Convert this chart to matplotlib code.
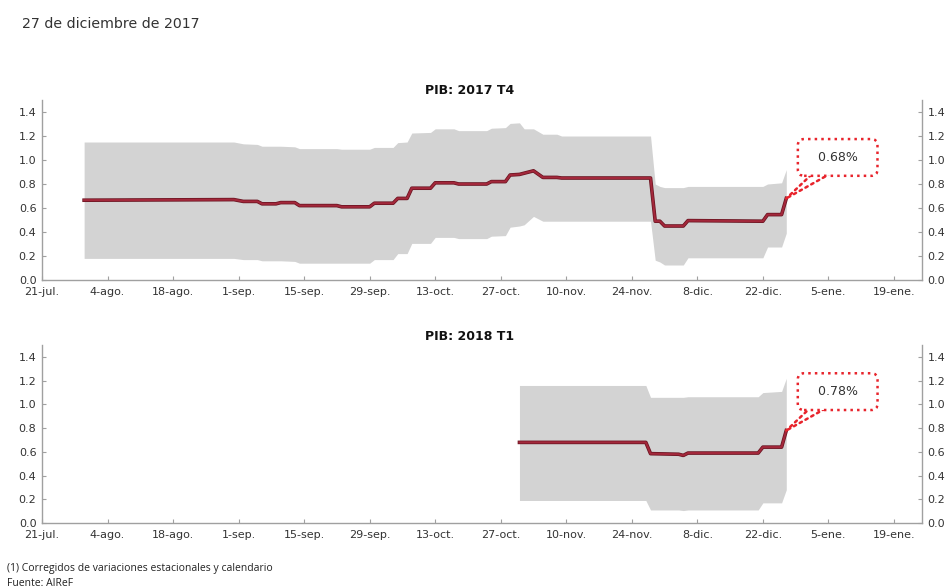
import matplotlib
matplotlib.use("Agg")
import matplotlib.pyplot as plt
import matplotlib.patheffects as pe
import pandas as pd

# PIB 2017 T4: estimacion central y banda de incertidumbre
fechas_t4 = ["2017-07-30", "2017-08-31", "2017-09-02", "2017-09-05", "2017-09-06", "2017-09-09",
             "2017-09-10", "2017-09-13", "2017-09-14", "2017-09-22", "2017-09-23", "2017-09-29",
             "2017-09-30", "2017-10-04", "2017-10-05", "2017-10-07", "2017-10-08", "2017-10-12",
             "2017-10-13", "2017-10-17", "2017-10-18", "2017-10-24", "2017-10-25", "2017-10-28",
             "2017-10-29", "2017-10-31", "2017-11-01", "2017-11-03", "2017-11-05", "2017-11-08",
             "2017-11-09", "2017-11-28", "2017-11-29", "2017-11-30", "2017-12-01", "2017-12-05",
             "2017-12-06", "2017-12-22", "2017-12-23", "2017-12-26", "2017-12-27"]
central_t4 = [0.665, 0.67, 0.655, 0.655, 0.635, 0.635,
              0.645, 0.645, 0.62, 0.62, 0.61, 0.61,
              0.64, 0.64, 0.68, 0.68, 0.765, 0.765,
              0.81, 0.81, 0.80, 0.80, 0.82, 0.82,
              0.875, 0.88, 0.89, 0.91, 0.855, 0.855,
              0.85, 0.85, 0.49, 0.49, 0.45, 0.45,
              0.495, 0.49, 0.545, 0.545, 0.68]
sup_t4 = [1.15, 1.15, 1.135, 1.13, 1.115, 1.115,
          1.115, 1.11, 1.095, 1.095, 1.09, 1.09,
          1.105, 1.105, 1.145, 1.15, 1.225, 1.23,
          1.26, 1.26, 1.245, 1.245, 1.265, 1.27,
          1.305, 1.31, 1.26, 1.26, 1.215, 1.215,
          1.20, 1.20, 0.80, 0.78, 0.77, 0.77,
          0.78, 0.78, 0.80, 0.81, 0.92]
inf_t4 = [0.18, 0.18, 0.17, 0.17, 0.16, 0.16,
          0.16, 0.155, 0.14, 0.14, 0.14, 0.14,
          0.17, 0.17, 0.22, 0.22, 0.305, 0.305,
          0.355, 0.355, 0.345, 0.345, 0.365, 0.37,
          0.44, 0.45, 0.46, 0.53, 0.49, 0.49,
          0.49, 0.49, 0.165, 0.15, 0.125, 0.125,
          0.185, 0.185, 0.275, 0.275, 0.39]

# PIB 2018 T1
fechas_t1 = ["2017-10-31", "2017-11-27", "2017-11-28", "2017-12-04", "2017-12-05", "2017-12-06",
             "2017-12-21", "2017-12-22", "2017-12-26", "2017-12-27"]
central_t1 = [0.68, 0.68, 0.585, 0.58, 0.57, 0.59, 0.59, 0.64, 0.64, 0.78]
sup_t1 = [1.16, 1.16, 1.06, 1.06, 1.06, 1.065, 1.065, 1.10, 1.11, 1.22]
inf_t1 = [0.19, 0.19, 0.11, 0.11, 0.105, 0.11, 0.11, 0.17, 0.17, 0.28]

etiquetas_x = ["21-jul.", "4-ago.", "18-ago.", "1-sep.", "15-sep.", "29-sep.", "13-oct.",
               "27-oct.", "10-nov.", "24-nov.", "8-dic.", "22-dic.", "5-ene.", "19-ene."]
ticks_x = pd.date_range("2017-07-21", periods=len(etiquetas_x), freq="14D")
ticks_y = [0.0, 0.2, 0.4, 0.6, 0.8, 1.0, 1.2, 1.4]

paneles = [
    ("PIB: 2017 T4", fechas_t4, central_t4, sup_t4, inf_t4, "0.68%"),
    ("PIB: 2018 T1", fechas_t1, central_t1, sup_t1, inf_t1, "0.78%"),
]

rojo = "#e8242c"
gris_eje = "#a0a0a0"
texto = "#333333"

fig = plt.figure(figsize=(9.48, 5.87), dpi=100)
posiciones = [[0.0443, 0.523, 0.9283, 0.3066], [0.0443, 0.109, 0.9283, 0.303]]
titulos_y = [1 - 90 / 587, 1 - 337 / 587]
desplaz_caja = [(37, 29.5), (37, 28)]

for i, (titulo, fechas, central, sup, inf, etiqueta) in enumerate(paneles):
    ax = fig.add_axes(posiciones[i])
    f = pd.to_datetime(fechas)
    ax.fill_between(f, inf, sup, color="#d3d3d3", lw=0)
    ax.plot(f, central, color="#a3283b", lw=1.5, solid_joinstyle="round",
            path_effects=[pe.Stroke(linewidth=2.6, foreground="#6a1421"), pe.Normal()])

    ax.set_xlim(pd.Timestamp("2017-07-21"), pd.Timestamp("2018-01-25"))
    ax.set_ylim(0, 1.5)
    ax.set_xticks(ticks_x)
    ax.set_xticklabels(etiquetas_x)
    ax.set_yticks(ticks_y)
    ax.set_yticklabels([f"{v:.1f}" for v in ticks_y])
    ax.tick_params(axis="both", direction="in", length=3, color=gris_eje,
                   labelsize=8, labelcolor=texto, right=True, labelright=True)
    ax.tick_params(axis="x", pad=5)
    ax.tick_params(axis="y", pad=4)
    ax.spines["top"].set_visible(False)
    for s in ["left", "right", "bottom"]:
        ax.spines[s].set_color(gris_eje)
        ax.spines[s].set_linewidth(1.0)

    fig.text(0.495, titulos_y[i], titulo, ha="center", va="center",
             fontsize=9, fontweight="bold", color="#111111")

    # globo con el ultimo dato: dos lineas punteadas y caja redondeada
    punto = (f[-1], central[-1])
    for extremo in [(18, 17), (32, 18)]:
        ax.annotate("", xy=punto, xytext=extremo, textcoords="offset points",
                    annotation_clip=False,
                    arrowprops=dict(arrowstyle="-", color=rojo, ls=":", lw=1.8,
                                    shrinkA=0, shrinkB=0), zorder=4)
    ax.annotate("  " + etiqueta + "  ", xy=punto, xytext=desplaz_caja[i],
                textcoords="offset points", annotation_clip=False,
                ha="center", va="center", fontsize=9, color=texto, zorder=5,
                bbox=dict(boxstyle="round,pad=0.95,rounding_size=0.5", fc="white",
                          ec=rojo, ls=":", lw=1.8))

fig.text(22 / 948, 1 - 24 / 587, "27 de diciembre de 2017", fontsize=10.2,
         color=texto, ha="left", va="center")
fig.text(7 / 948, 1 - 568 / 587, "(1) Corregidos de variaciones estacionales y calendario",
         fontsize=7.5, family="Open Sans", color="#222222", ha="left", va="center")
fig.text(7 / 948, 1 - 583 / 587, "Fuente: AIReF",
         fontsize=7.5, family="Open Sans", color="#222222", ha="left", va="center")

fig.savefig("out.png", dpi=100)
